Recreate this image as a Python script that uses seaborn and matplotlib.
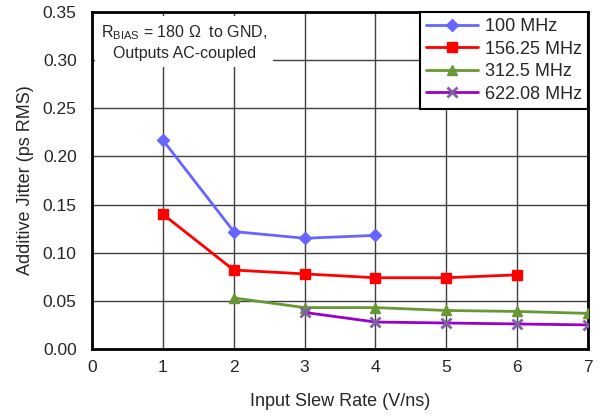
import matplotlib
matplotlib.use("Agg")
import matplotlib.pyplot as plt
import seaborn as sns
import pandas as pd

# data
x_100 = [1, 2, 3, 4]
y_100 = [0.217, 0.122, 0.115, 0.118]
x_156 = [1, 2, 3, 4, 5, 6]
y_156 = [0.140, 0.082, 0.078, 0.074, 0.074, 0.077]
x_312 = [2, 3, 4, 5, 6, 7]
y_312 = [0.053, 0.043, 0.043, 0.040, 0.039, 0.037]
x_622 = [3, 4, 5, 6, 7]
y_622 = [0.038, 0.028, 0.027, 0.026, 0.025]

series = [
    ("100 MHz", x_100, y_100, "#6666FF", "D", "#6666FF", 6),
    ("156.25 MHz", x_156, y_156, "#FF0000", "s", "#FF0000", 7),
    ("312.5 MHz", x_312, y_312, "#669933", "^", "#669933", 7),
    ("622.08 MHz", x_622, y_622, "#9900CC", "x", "#8060A0", 7),
]

sns.set_style("white")
plt.rcParams['font.family'] = ['Liberation Sans', 'DejaVu Sans']
plt.rcParams['mathtext.default'] = 'regular'

fig = plt.figure(figsize=(6, 4.16), dpi=100)
ax = fig.add_axes([92 / 600, 1 - 349 / 416, 496 / 600, 337 / 416])

for name, xs, ys, col, mk, mcol, ms in series:
    df = pd.DataFrame({"x": xs, "y": ys})
    sns.lineplot(data=df, x="x", y="y", ax=ax, color=col, marker=mk, markersize=ms,
                 markerfacecolor=mcol, markeredgecolor=mcol, markeredgewidth=2 if mk == "x" else 1,
                 linewidth=2, label=name, zorder=3)

ax.set_xlim(0, 7)
ax.set_ylim(0, 0.35)
ax.set_xticks(range(0, 8))
ax.set_yticks([i * 0.05 for i in range(8)])
ax.set_yticklabels([f"{i * 0.05:.2f}" for i in range(8)])
ax.tick_params(axis="x", labelsize=12.5, length=0, pad=8)
ax.tick_params(axis="y", labelsize=12.5, length=0, pad=11)
ax.grid(True, color="#404040", linewidth=1)
for s in ax.spines.values():
    s.set_color("black")
    s.set_linewidth(2)
ax.set_xlabel("Input Slew Rate (V/ns)", fontsize=13, labelpad=13)
ax.set_ylabel("Additive Jitter (ps RMS)", fontsize=13, labelpad=6)

leg = ax.legend(loc="upper right", fontsize=13, frameon=True, fancybox=False,
                borderaxespad=0, handlelength=2.9, handletextpad=0.35,
                labelspacing=0.3, borderpad=0.35)
leg.get_frame().set_edgecolor("black")
leg.get_frame().set_linewidth(1.5)
leg.get_frame().set_alpha(1)

ax.text(1.3, 0.3185, "R$_{BIAS}$ = 180 Ω  to GND,\nOutputs AC-coupled",
        fontsize=11.5, ha="center", va="center", multialignment="center", linespacing=1.3,
        bbox=dict(facecolor="white", edgecolor="none", pad=4), zorder=4)

fig.savefig("out.png", dpi=100)
